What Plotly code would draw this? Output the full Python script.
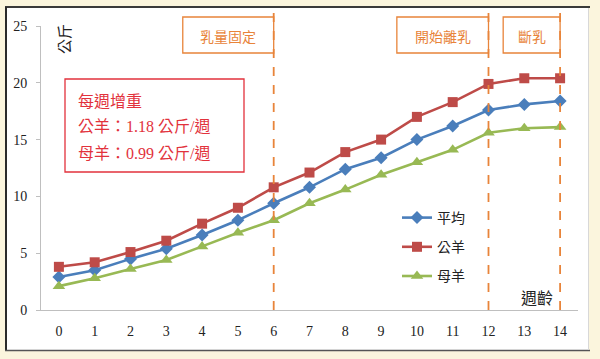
import plotly.graph_objects as go

weeks = list(range(15))
avg = [2.9, 3.5, 4.5, 5.4, 6.6, 7.9, 9.4, 10.8, 12.4, 13.4, 15.0, 16.2, 17.6, 18.1, 18.4]
ram = [3.8, 4.2, 5.1, 6.1, 7.6, 9.0, 10.8, 12.1, 13.9, 15.0, 17.0, 18.3, 19.9, 20.4, 20.4]
ewe = [2.1, 2.8, 3.6, 4.4, 5.6, 6.8, 7.9, 9.4, 10.6, 11.9, 13.0, 14.1, 15.6, 16.0, 16.1]
series_names = ["平均", "公羊", "母羊"]
stage_labels = ["乳量固定", "開始離乳", "斷乳"]
stage_ends = [6, 12, 14]
stage_starts = [3.46, 9.44, 12.41]
gain_title = "每週增重"
gain_lines = ["公羊：1.18 公斤/週", "母羊：0.99 公斤/週"]
y_ticks = [0, 5, 10, 15, 20, 25]

CJK = "Noto Sans CJK TC"
SERIF = "Liberation Serif, Noto Sans CJK TC"
ORANGE = "#e8843a"
RED = "#e2323c"

# plot area pixel geometry
L, R, T, B = 41, 22, 26, 49
W, H = 600, 359
pw, ph = W - L - R, H - T - B

def px_x(px):
    return (px - L) / pw

def px_y(py):
    return (H - B - py) / ph

fig = go.Figure()
colors = ["#4a7ebb", "#be4b48", "#98b954"]
symbols = ["diamond", "square", "triangle-up"]
sizes = [10, 10, 11]
for i, (name, vals) in enumerate(zip(series_names, [avg, ram, ewe])):
    fig.add_trace(go.Scatter(
        x=weeks, y=vals, name=name, mode="lines+markers",
        line=dict(color=colors[i], width=2.6),
        marker=dict(symbol=symbols[i], size=sizes[i], color=colors[i]),
        legendgroup=name,
    ))

shapes = []
# outer white panel and frame
shapes.append(dict(type="rect", xref="paper", yref="paper", x0=px_x(6), x1=px_x(589),
                   y0=px_y(350), y1=px_y(7), fillcolor="white", line=dict(width=0), layer="below"))
shapes.append(dict(type="line", xref="paper", yref="paper", x0=px_x(5), x1=px_x(590),
                   y0=px_y(7), y1=px_y(7), line=dict(color="#3a3a3a", width=2)))
shapes.append(dict(type="line", xref="paper", yref="paper", x0=px_x(6), x1=px_x(6),
                   y0=px_y(7), y1=px_y(351), line=dict(color="#2a2a2a", width=2)))
shapes.append(dict(type="line", xref="paper", yref="paper", x0=px_x(5), x1=px_x(590),
                   y0=px_y(350.5), y1=px_y(350.5), line=dict(color="#555555", width=1.5)))
shapes.append(dict(type="line", xref="paper", yref="paper", x0=px_x(588.5), x1=px_x(588.5),
                   y0=px_y(8), y1=px_y(350), line=dict(color="#d8d8d8", width=1)))

annotations = []
for lab, s, e in zip(stage_labels, stage_starts, stage_ends):
    shapes.append(dict(type="line", xref="x", yref="paper", x0=e, x1=e, y0=0, y1=px_y(8),
                       line=dict(color=ORANGE, width=1.8, dash="dash")))
    shapes.append(dict(type="rect", xref="x", yref="paper", x0=s, x1=e,
                       y0=px_y(53), y1=px_y(17), line=dict(color=ORANGE, width=1.3)))
    annotations.append(dict(x=(s + e) / 2, y=px_y(36), xref="x", yref="paper", text=lab,
                            xanchor="center", yanchor="middle",
                            showarrow=False, font=dict(family=CJK, size=14, color=ORANGE)))

# weight gain box
shapes.append(dict(type="rect", xref="paper", yref="paper", x0=px_x(65), x1=px_x(244),
                   y0=px_y(172), y1=px_y(79), line=dict(color=RED, width=1.3)))
annotations.append(dict(x=px_x(76), y=px_y(100), xref="paper", yref="paper", text=gain_title,
                        xanchor="left", yanchor="middle",
                        showarrow=False, font=dict(family=CJK, size=16, color=RED)))
for j, t in enumerate(gain_lines):
    annotations.append(dict(x=px_x(76), y=px_y(126 + 27 * j), xref="paper", yref="paper", text=t,
                            xanchor="left", yanchor="middle",
                            showarrow=False, font=dict(family=SERIF, size=16, color=RED)))

annotations.append(dict(x=px_x(63), y=px_y(39), xref="paper", yref="paper", text="公斤",
                        textangle=-90, xanchor="center", yanchor="middle",
                        showarrow=False, font=dict(family=CJK, size=15, color="#222")))
annotations.append(dict(x=px_x(537), y=px_y(297), xref="paper", yref="paper", text="週齡",
                        xanchor="center", yanchor="middle",
                        showarrow=False, font=dict(family=CJK, size=16, color="#222")))

fig.update_layout(
    width=W, height=H,
    margin=dict(l=L, r=R, t=T, b=B, pad=0, autoexpand=False),
    paper_bgcolor="#fbf5dd", plot_bgcolor="rgba(0,0,0,0)",
    shapes=shapes, annotations=annotations,
    showlegend=True,
    legend=dict(x=px_x(397), y=px_y(202), xanchor="left", yanchor="top",
                bgcolor="rgba(0,0,0,0)", font=dict(family=CJK, size=14, color="#222"),
                tracegroupgap=8, itemwidth=30),
    xaxis=dict(type="linear", range=[-0.5, 14.5], tickvals=weeks, ticktext=[str(w) for w in weeks],
               showgrid=False, zeroline=False, showline=True, linecolor="#bfbfbf", linewidth=1,
               ticks="", tickfont=dict(family=SERIF, size=14, color="#222"), ticklabelstandoff=8,
               automargin=False),
    yaxis=dict(range=[0, 25], tickvals=y_ticks, showgrid=False, zeroline=False,
               showline=True, linecolor="#bfbfbf", linewidth=1, ticks="outside", ticklen=4,
               tickcolor="#bfbfbf", tickfont=dict(family=SERIF, size=14, color="#222"),
               ticklabelstandoff=6, automargin=False),
)

fig.write_html("out.html", config={"displayModeBar": False},
               post_script="document.body.style.margin='0';document.body.style.padding='0';")
